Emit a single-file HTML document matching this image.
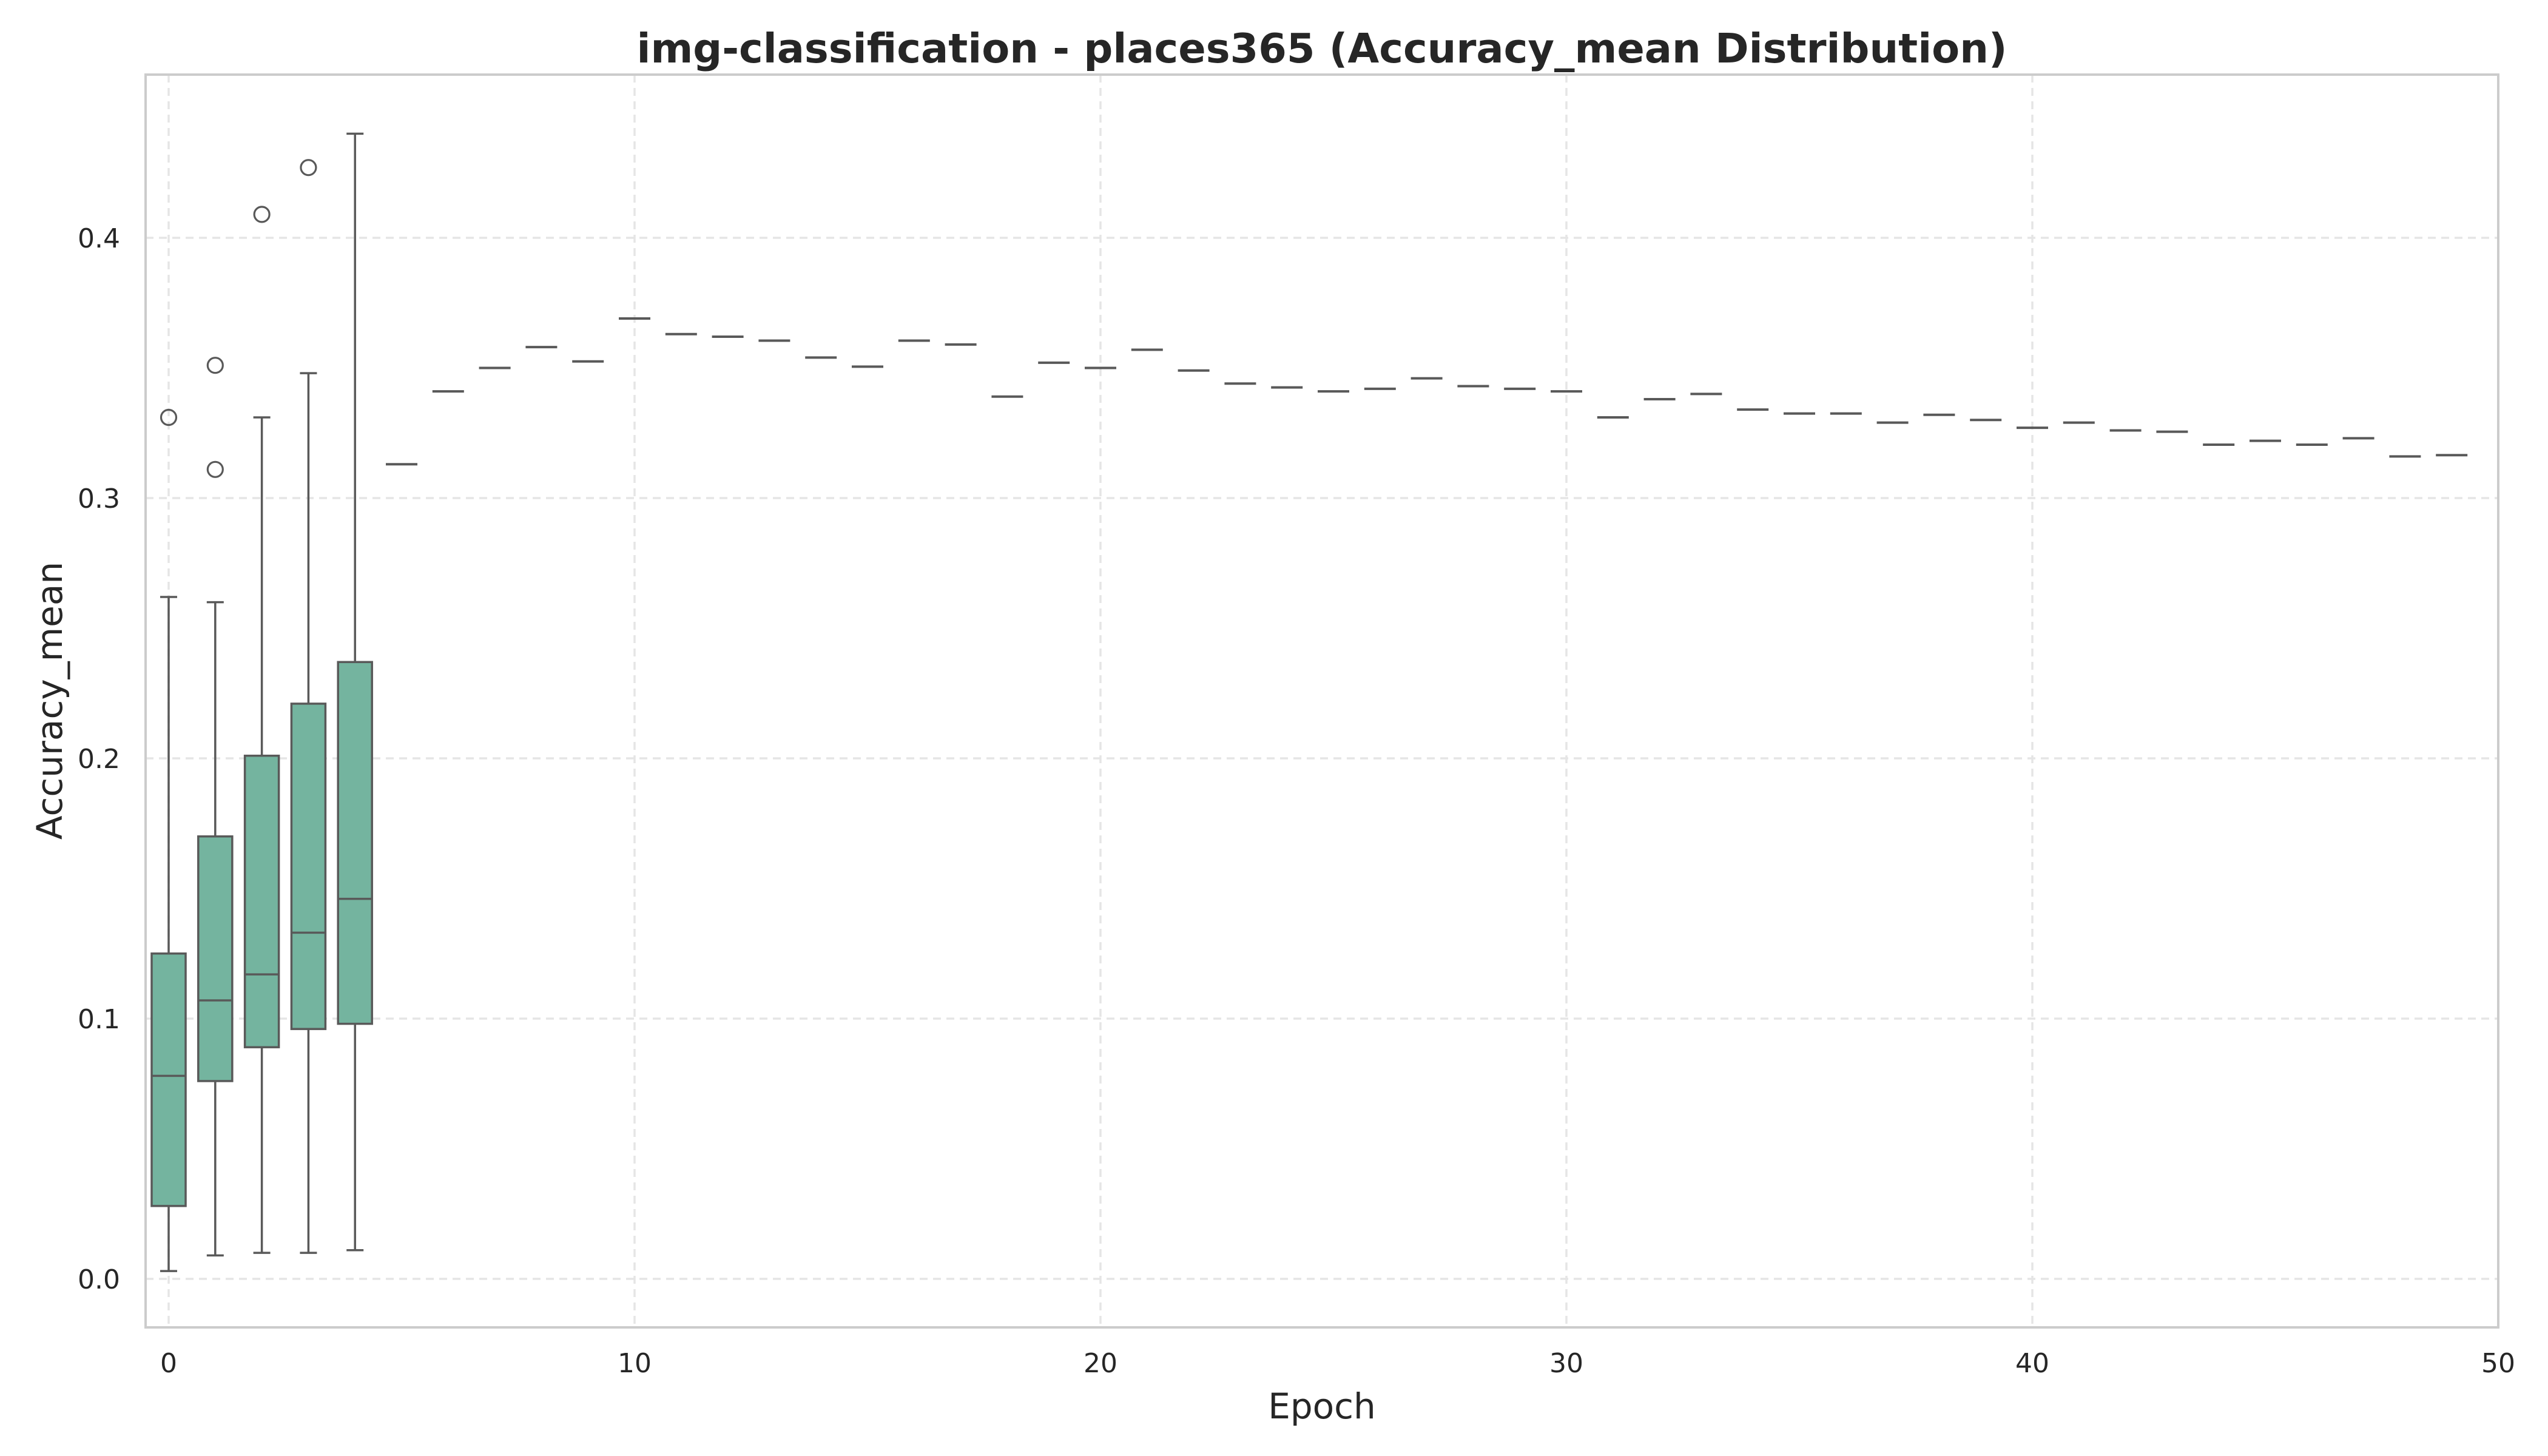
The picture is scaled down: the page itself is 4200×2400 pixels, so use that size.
<!DOCTYPE html>
<html><head><meta charset="utf-8"><style>
html,body{margin:0;padding:0;background:#fff;}
svg{display:block;}
text{font-family:"DejaVu Sans","Liberation Sans",sans-serif;fill:#262626;}
</style></head><body>
<svg id="chart" width="4200" height="2400" viewBox="0 0 4200 2400" xmlns="http://www.w3.org/2000/svg">
<rect width="4200" height="2400" fill="#fff"/>
<g id="grid"></g>
<g id="marks"></g>
<rect x="240" y="123" width="3878" height="2065" fill="none" stroke="#cccccc" stroke-width="4"/>
<g id="ticks"></g>
<text x="2179" y="103" text-anchor="middle" font-size="67" font-weight="bold">img-classification - places365 (Accuracy_mean Distribution)</text>
<text x="2179" y="2338" text-anchor="middle" font-size="58">Epoch</text>
<text transform="translate(102,1155) rotate(-90)" text-anchor="middle" font-size="58">Accuracy_mean</text>
</svg>
<script>
// Box statistics for epochs 0-4
const boxEpochs = [0, 1, 2, 3, 4];
const whiskerLow = [0.003, 0.009, 0.010, 0.010, 0.011];
const q1Values = [0.028, 0.076, 0.089, 0.096, 0.098];
const medianValues = [0.078, 0.107, 0.117, 0.133, 0.146];
const q3Values = [0.125, 0.170, 0.201, 0.221, 0.237];
const whiskerHigh = [0.262, 0.260, 0.331, 0.348, 0.440];
const outlierEpochs = [0, 1, 1, 2, 3];
const outlierValues = [0.331, 0.311, 0.351, 0.409, 0.427];
// Single-value epochs 5-49
const lineEpochs = [5,6,7,8,9,10,11,12,13,14,15,16,17,18,19,20,21,22,23,24,25,26,27,28,29,30,31,32,33,34,35,36,37,38,39,40,41,42,43,44,45,46,47,48,49];
const lineValues = [0.313,0.341,0.350,0.358,0.3525,0.369,0.363,0.362,0.3605,0.354,0.3505,0.3605,0.359,0.339,0.352,0.350,0.357,0.349,0.344,0.3425,0.341,0.342,0.346,0.343,0.342,0.341,0.331,0.338,0.340,0.334,0.3325,0.3325,0.329,0.332,0.330,0.327,0.329,0.326,0.3255,0.3205,0.322,0.3205,0.323,0.316,0.3165];
const xTicks = [0, 10, 20, 30, 40, 50];
const yTicks = [0.0, 0.1, 0.2, 0.3, 0.4];
const yTickLabels = ["0.0", "0.1", "0.2", "0.3", "0.4"];

const NS = "http://www.w3.org/2000/svg";
const X0 = 278, XS = 76.8, Y0 = 2108, YS = 4290;
const xPos = e => X0 + e * XS;
const yPos = v => Y0 - v * YS;
const BW = 56, CAP = 28, LC = "#595959", FILL = "#74b49f";

function mk(tag, attrs, parent) {
  const el = document.createElementNS(NS, tag);
  for (const k in attrs) el.setAttribute(k, attrs[k]);
  parent.appendChild(el);
  return el;
}
const grid = document.getElementById('grid');
const marks = document.getElementById('marks');
const ticks = document.getElementById('ticks');

xTicks.forEach(t => {
  const l = mk('line', {x1: xPos(t), x2: xPos(t), y1: 123, y2: 2188, stroke: '#e5e5e5', 'stroke-width': 3.5, 'stroke-dasharray': '13 9'}, grid);
  
  
  const tx = mk('text', {x: xPos(t), y: 2262, 'text-anchor': 'middle', 'font-size': 44}, ticks);
  tx.textContent = String(t);
  
  
});
yTicks.forEach((t, i) => {
  const l = mk('line', {x1: 240, x2: 4118, y1: yPos(t), y2: yPos(t), stroke: '#e5e5e5', 'stroke-width': 3.5, 'stroke-dasharray': '13 9'}, grid);
  
  
  const tx = mk('text', {x: 198, y: yPos(t) + 16, 'text-anchor': 'end', 'font-size': 44}, ticks);
  tx.textContent = yTickLabels[i];
  
  
});

boxEpochs.forEach((e, i) => {
  const g = mk('g', {}, marks);
  
  
  const cx = xPos(e);
  mk('line', {x1: cx, x2: cx, y1: yPos(whiskerLow[i]), y2: yPos(q1Values[i]), stroke: LC, 'stroke-width': 3.5}, g);
  mk('line', {x1: cx, x2: cx, y1: yPos(q3Values[i]), y2: yPos(whiskerHigh[i]), stroke: LC, 'stroke-width': 3.5}, g);
  mk('line', {x1: cx - CAP/2, x2: cx + CAP/2, y1: yPos(whiskerLow[i]), y2: yPos(whiskerLow[i]), stroke: LC, 'stroke-width': 3.5}, g);
  mk('line', {x1: cx - CAP/2, x2: cx + CAP/2, y1: yPos(whiskerHigh[i]), y2: yPos(whiskerHigh[i]), stroke: LC, 'stroke-width': 3.5}, g);
  mk('rect', {x: cx - BW/2, y: yPos(q3Values[i]), width: BW, height: yPos(q1Values[i]) - yPos(q3Values[i]), fill: FILL, stroke: LC, 'stroke-width': 3.5}, g);
  mk('line', {x1: cx - BW/2, x2: cx + BW/2, y1: yPos(medianValues[i]), y2: yPos(medianValues[i]), stroke: LC, 'stroke-width': 3.5}, g);
});
outlierEpochs.forEach((e, i) => {
  const c = mk('circle', {cx: xPos(e), cy: yPos(outlierValues[i]), r: 12.5, fill: 'none', stroke: LC, 'stroke-width': 3.2}, marks);
  
  
});
lineEpochs.forEach((e, i) => {
  const l = mk('line', {x1: xPos(e) - BW/2 + 2, x2: xPos(e) + BW/2 - 2, y1: yPos(lineValues[i]), y2: yPos(lineValues[i]), stroke: LC, 'stroke-width': 4}, marks);
  
  
});
</script>
</body></html>
